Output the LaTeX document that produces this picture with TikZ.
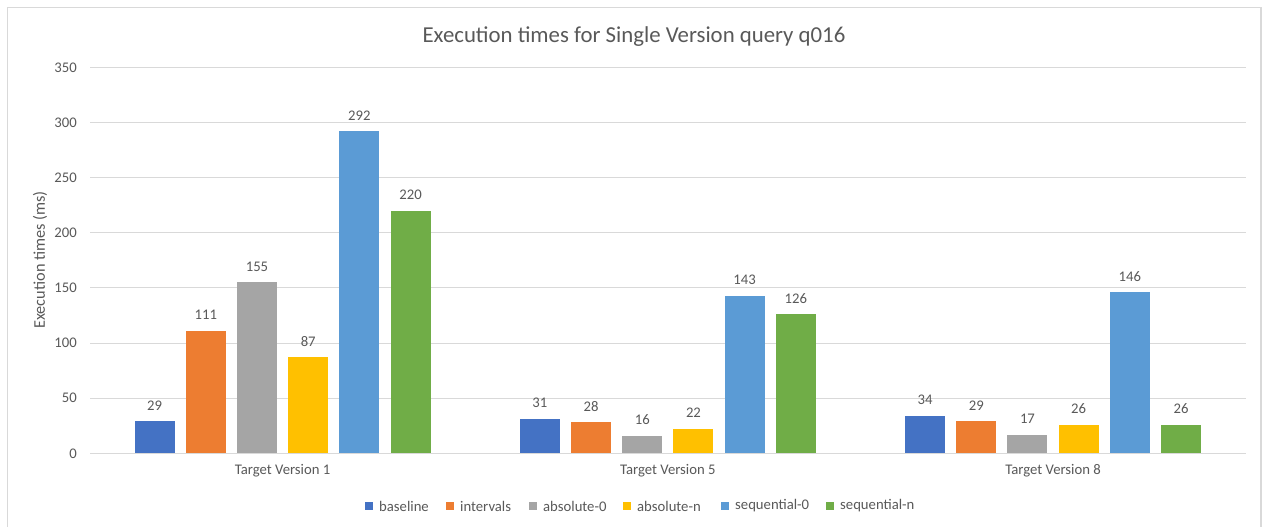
\documentclass[tikz,border=0pt]{standalone}
\usepackage{fontspec}
\setmainfont{Carlito}
\definecolor{ser0}{HTML}{4472C4}
\definecolor{ser1}{HTML}{ED7D31}
\definecolor{ser2}{HTML}{A5A5A5}
\definecolor{ser3}{HTML}{FFC000}
\definecolor{ser4}{HTML}{5B9BD5}
\definecolor{ser5}{HTML}{70AD47}
\definecolor{txt}{HTML}{595959}
\definecolor{gridc}{HTML}{D9D9D9}
\tikzset{
  gridline/.style={draw=gridc, line width=1pt},
  frame/.style={draw=gridc, line width=1.2pt},
  lbl/.style={text=txt, inner sep=0pt},
  ticklbl/.style={lbl, anchor=east},
  legsq/.style={minimum size=8pt, inner sep=0pt},
}
\begin{document}
\begin{tikzpicture}[x=1pt,y=-1pt,font=\fontsize{14.7}{16}\selectfont]
\useasboundingbox (0,0) rectangle (1262,527);
\fill[white] (0,0) rectangle (1262,527);
\draw[frame] (7.5,528) -- (7.5,7.5) -- (1261,7.5) -- (1261,528);
% title
\node[lbl, font=\fontsize{22.8}{26}\selectfont] (title) at (634,37) {Execution times for Single Version query q016};
% grid and ticks
\foreach \v in {0,50,...,350} {
  \pgfmathsetmacro\yy{453.3-\v*1.1029}
  \draw[gridline] (90,\yy) -- (1245.7,\yy);
  \node[ticklbl] (tick\v) at (77,\yy) {\v};
}
\node[lbl, rotate=90, font=\fontsize{16.3}{18}\selectfont] (ytitle) at (40,260) {Execution times (ms)};
% bars
\foreach \vals [count=\g] in {{29,111,155,87,292,220},{31,28,16,22,143,126},{34,29,17,26,146,26}} {
  \pgfmathsetmacro\cc{90+385.233*(\g-0.5)}
  \node[lbl] (cat\g) at (\cc,471) {Target Version \ifcase\g\or 1\or 5\or 8\fi};
  \foreach \v [count=\i from 0] in \vals {
    \pgfmathsetmacro\xc{\cc+(\i-2.5)*51.2}
    \pgfmathsetmacro\yt{453.3-\v*1.1029}
    \fill[ser\i] (\xc-20,453.3) rectangle (\xc+20,\yt);
    \node[lbl] (val\g-\i) at (\xc,\yt-16) {\v};
  }
}
% legend
\foreach \x/\name [count=\i from 0] in {365/baseline,446/intervals,529/absolute-0,623/absolute-n,721/sequential-0,826/sequential-n} {
  \node[legsq, fill=ser\i] (legsq\i) at (\x+4,506) {};
  \node[lbl, anchor=west] (leg\i) at (\x+14,506) {\name};
}
\end{tikzpicture}
\end{document}
